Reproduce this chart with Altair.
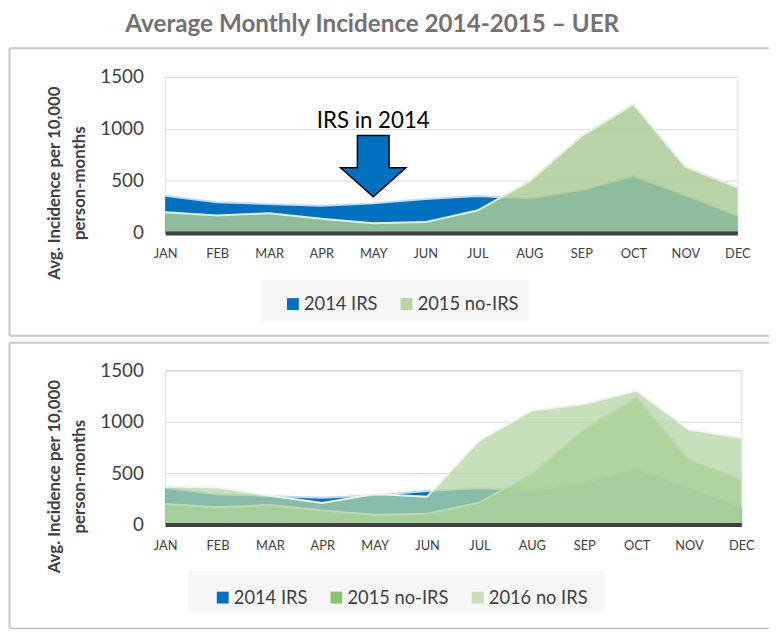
import altair as alt
import pandas as pd

# ---------------- data ----------------
months = ['JAN', 'FEB', 'MAR', 'APR', 'MAY', 'JUN', 'JUL', 'AUG', 'SEP', 'OCT', 'NOV', 'DEC']
irs_2014 = [358, 295, 279, 262, 285, 327, 355, 333, 412, 548, 365, 168]
noirs_2015 = [200, 168, 190, 137, 95, 105, 216, 494, 929, 1236, 634, 437]
noirs_2016 = [371, 361, 280, 210, 297, 271, 819, 1109, 1174, 1302, 925, 845]
series_names = ['2014 IRS', '2015 no-IRS', '2016 no IRS']
y_ticks = [0, 500, 1000, 1500]
title_text = 'Average Monthly Incidence 2014-2015 \u2013 UER'
y_title = ['Avg. Incidence per 10,000', 'person-months']
annotation_text = 'IRS in 2014'
annotation_month = 'MAY'
annotation_text_value = 1005
annotation_arrow_value = 643

df = pd.DataFrame({
    'month': months * 3,
    'value': irs_2014 + noirs_2015 + noirs_2016,
    'series': [series_names[0]] * 12 + [series_names[1]] * 12 + [series_names[2]] * 12,
})
df_annot_text = pd.DataFrame({'month': [annotation_month], 'value': [annotation_text_value]})
df_annot_arrow = pd.DataFrame({'month': [annotation_month], 'value': [annotation_arrow_value]})
one = pd.DataFrame({'k': [0]})

FONT = 'Lato'
TEXT = '#404040'
ARROW = 'M -0.485 -0.94 L 0.485 -0.94 L 0.485 0.05 L 1 0.05 L 0 0.94 L -1 0.05 L -0.485 0.05 Z'


def x_enc():
    return alt.X('month:N', sort=months,
                 scale=alt.Scale(type='point', padding=0),
                 axis=alt.Axis(title=None, labelAngle=0, labelFont=FONT, labelFontSize=13,
                               labelColor=TEXT, labelPadding=15, ticks=False,
                               domainColor='#404040', domainWidth=4, grid=False, zindex=1))


def y_enc():
    return alt.Y('value:Q', stack=None,
                 scale=alt.Scale(domain=[0, 1500], nice=False, zero=True),
                 axis=alt.Axis(values=y_ticks, format='d', title=y_title, titleFont=FONT,
                               titleFontSize=17, titleFontWeight='bold', titleColor=TEXT,
                               titleLineHeight=25, titleAngle=270, titleAlign='center',
                               titleBaseline='middle', titleX=-112, titleY=107,
                               labelFont=FONT, labelFontSize=19, labelColor=TEXT, labelPadding=22,
                               ticks=False, domain=False, grid=True, gridColor='#d9d9d9',
                               gridWidth=1))


def border_layers(top, bottom, left, right):
    st = dict(color='#c8c8c8', strokeWidth=2)
    return [
        alt.Chart(one).mark_rule(**st).encode(x=alt.value(left), x2=alt.value(right), y=alt.value(top)),
        alt.Chart(one).mark_rule(**st).encode(x=alt.value(left), x2=alt.value(right), y=alt.value(bottom)),
        alt.Chart(one).mark_rule(**st).encode(x=alt.value(left), y=alt.value(top), y2=alt.value(bottom)),
    ]


def panel(series, fills, opacities, line_colors, legend_colors, width, height,
          legend_x, legend_y, box, borders, extra=None):
    d = df[df['series'].isin(series)]
    layers = border_layers(*borders)
    layers.append(alt.Chart(one).mark_rect(fill='#f7f7f7').encode(
        x=alt.value(box[0]), x2=alt.value(box[1]), y=alt.value(box[2]), y2=alt.value(box[3])))
    for s, f, o, lc in zip(series, fills, opacities, line_colors):
        base = alt.Chart(d).transform_filter(alt.datum.series == s)
        layers.append(base.mark_area(fill=f, opacity=o, interpolate='linear').encode(x=x_enc(), y=y_enc()))
        layers.append(base.mark_line(stroke=lc, strokeWidth=2).encode(x=x_enc(), y=y_enc()))
    layers.append(alt.Chart(d).mark_text(text='').encode(
        x=x_enc(), y=y_enc(),
        color=alt.Color('series:N', sort=series,
                        scale=alt.Scale(domain=series, range=legend_colors),
                        legend=alt.Legend(title=None, orient='none', legendX=legend_x, legendY=legend_y,
                                          direction='horizontal', symbolType='square', symbolSize=144,
                                          symbolStrokeWidth=0, symbolOpacity=1, labelFont=FONT,
                                          labelFontSize=18.5, labelColor=TEXT, labelOffset=2,
                                          columnPadding=20, padding=0))))
    if extra:
        layers.extend(extra)
    return alt.layer(*layers).properties(width=width, height=height)


# annotation for top panel
title_layer = alt.Chart(one).mark_text(text=title_text, font=FONT, fontSize=24.5, fontWeight='bold',
                                       color='#767171', align='center', baseline='alphabetic').encode(
    x=alt.value(209.5), y=alt.value(-45))
annot_text = alt.Chart(df_annot_text).mark_text(text=annotation_text, font=FONT, fontSize=22.5,
                                                color='#000000', align='center',
                                                baseline='alphabetic').encode(x=x_enc(), y=y_enc())
annot_arrow = alt.Chart(df_annot_arrow).mark_point(shape=ARROW, size=4356, filled=True, fill='#0070c0',
                                                   stroke='#000000', strokeWidth=1.5, opacity=1).encode(
    x=x_enc(), y=y_enc())

top = panel(series_names[:2], ['#0070c0', '#abcc94'], [1.0, 0.835], ['#c5dcf0', '#e3efdb'],
            ['#0070c0', '#b7d5a5'], 579, 158, 120, 220.5,
            (97, 368, 205, 247), (-29, 262, -157.5, 611),
            extra=[title_layer, annot_text, annot_arrow])

bottom = panel(series_names, ['#0070c0', '#93c47d', '#b4d5a4'], [1.0, 0.85, 0.75],
               ['#c5dcf0', '#cfe3c4', '#eef5ea'],
               ['#0070c0', '#8fc172', '#c8dfbc'], 583, 156, 49, 220.5,
               (23, 445, 203, 245), (-28, 261, -157.5, 611))

chart = alt.vconcat(top, bottom, spacing=3).resolve_scale(color='independent').properties(
    padding={'left': 0, 'top': 0, 'right': 0, 'bottom': 0}
).configure_view(stroke=None).configure(background='white')

chart.save('out.html', embed_options={'renderer': 'svg', 'actions': False})
